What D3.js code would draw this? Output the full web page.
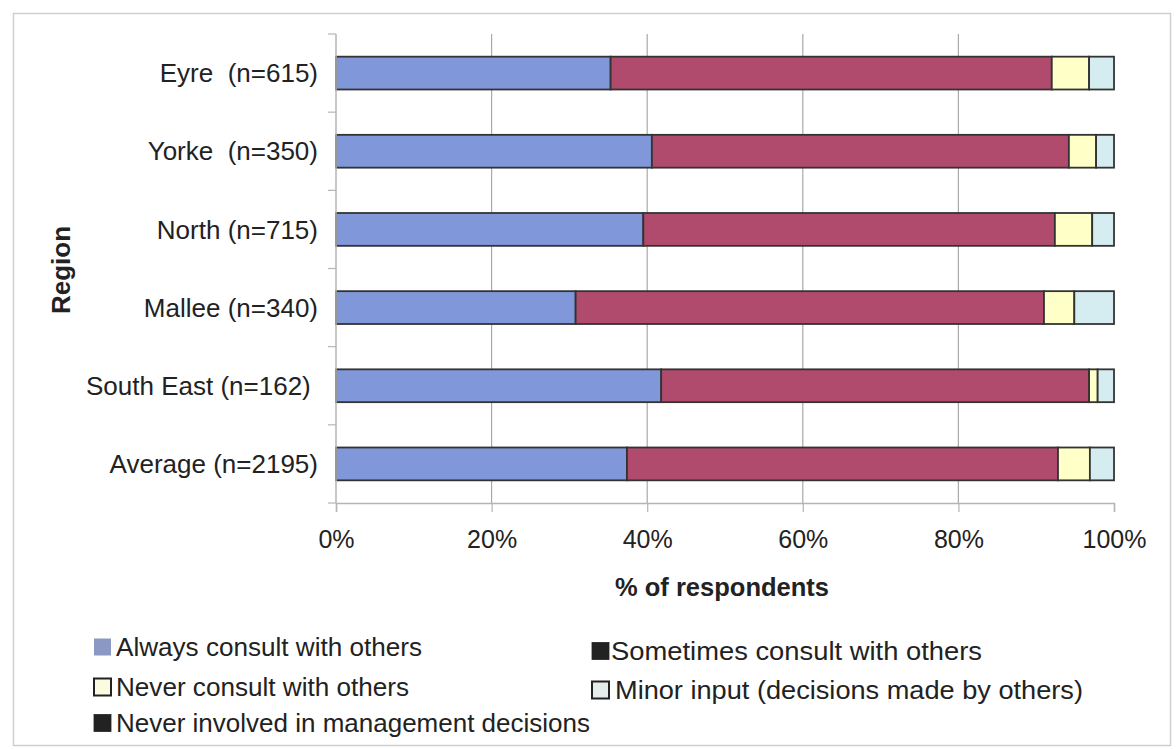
<!DOCTYPE html>
<html>
<head>
<meta charset="utf-8">
<script src="https://cdn.jsdelivr.net/npm/d3@7"></script>
<style>
  html, body { margin: 0; padding: 0; background: #fff; }
  svg { display: block; font-family: Arial, "Liberation Sans", sans-serif; }
  text { white-space: pre; }
</style>
</head>
<body>
<svg id="chart" width="1176" height="749"></svg>
<script>
// Regions, top to bottom
const categories = [
  "Eyre  (n=615)",
  "Yorke  (n=350)",
  "North (n=715)",
  "Mallee (n=340)",
  "South East (n=162) ",
  "Average (n=2195)"
];

// Series names (stack order, left to right)
const seriesNames = [
  "Always consult with others",
  "Sometimes consult with others",
  "Never consult with others",
  "Minor input (decisions made by others)",
  "Never involved in management decisions"
];

// Percentage of respondents per region, one array per series
const alwaysConsult    = [35.3, 40.6, 39.5, 30.8, 41.8, 37.4];
const sometimesConsult = [56.7, 53.6, 52.9, 60.2, 55.0, 55.4];
const neverConsult     = [4.8, 3.5, 4.8, 3.9, 1.1, 4.1];
const minorInput       = [3.2, 2.3, 2.8, 5.1, 2.1, 3.1];
const neverInvolved    = [0, 0, 0, 0, 0, 0];

const xTicks = [0, 20, 40, 60, 80, 100];
const xTickLabels = ["0%", "20%", "40%", "60%", "80%", "100%"];

const barColors = ["#8098da", "#b14b6e", "#ffffc8", "#d5edf0", "#333333"];
const legendColors = ["#8b98c3", "#222222", "#fbfbe2", "#e4ecec", "#222222"];

const seriesArrays = [alwaysConsult, sometimesConsult, neverConsult, minorInput, neverInvolved];

const rows = categories.map((c, i) => {
  const r = { region: c };
  seriesNames.forEach((s, k) => { r[s] = seriesArrays[k][i]; });
  return r;
});

const svg = d3.select("#chart");

// Outer frame
svg.append("rect")
  .attr("x", 13.5).attr("y", 13.5)
  .attr("width", 1157).attr("height", 732)
  .attr("fill", "none").attr("stroke", "#cfcfcf").attr("stroke-width", 1.5);

const plot = { left: 336, right: 1114, top: 34, bottom: 503 };

const x = d3.scaleLinear().domain([0, 100]).range([plot.left, plot.right]);
const y = d3.scaleBand().domain(categories)
  .range([plot.top, plot.bottom])
  .paddingInner(0.58).paddingOuter(0.29);

// Vertical gridlines
svg.append("g")
  .selectAll("line")
  .data(xTicks.filter(t => t > 0 && t < 100))
  .join("line")
  .attr("x1", d => x(d)).attr("x2", d => x(d))
  .attr("y1", plot.top).attr("y2", plot.bottom)
  .attr("stroke", "#a9a9a9").attr("stroke-width", 1.2);

// Stacked bars
const stack = d3.stack().keys(seriesNames);
const stacked = stack(rows);

svg.append("g")
  .selectAll("g")
  .data(stacked)
  .join("g")
  .attr("fill", (d, i) => barColors[i])
  .selectAll("rect")
  .data(d => d.filter(p => p[1] - p[0] > 0))
  .join("rect")
  .attr("x", p => x(p[0]))
  .attr("y", p => y(p.data.region))
  .attr("width", p => x(p[1]) - x(p[0]))
  .attr("height", y.bandwidth())
  .attr("stroke", "#333333")
  .attr("stroke-width", 1.8);

// X axis
const xAxis = d3.axisBottom(x)
  .tickValues(xTicks)
  .tickFormat((d, i) => xTickLabels[i])
  .tickSize(9)
  .tickPadding(18);

const gx = svg.append("g")
  .attr("transform", `translate(0,${plot.bottom})`)
  .call(xAxis);
gx.select(".domain").attr("stroke", "#b5b5b5").attr("stroke-width", 1.5);
gx.selectAll(".tick line").attr("stroke", "#b5b5b5").attr("stroke-width", 1.2);
gx.selectAll(".tick text")
  .attr("font-size", 25).attr("fill", "#222")
  .attr("font-family", "Arial, 'Liberation Sans', sans-serif");

// Y axis (ticks at band boundaries)
const step = y.step();
const boundaries = categories.map(c => y(c) - step * y.paddingInner() / 2)
  .concat([plot.bottom]);
const gy = svg.append("g");
gy.append("line")
  .attr("x1", plot.left).attr("x2", plot.left)
  .attr("y1", plot.top).attr("y2", plot.bottom)
  .attr("stroke", "#b5b5b5").attr("stroke-width", 1.5);
gy.selectAll("line.tick")
  .data(boundaries)
  .join("line")
  .attr("class", "tick")
  .attr("x1", plot.left - 8).attr("x2", plot.left)
  .attr("y1", d => d).attr("y2", d => d)
  .attr("stroke", "#b5b5b5").attr("stroke-width", 1.2);
gy.selectAll("text")
  .data(categories)
  .join("text")
  .attr("x", 318)
  .attr("y", d => y(d) + y.bandwidth() / 2)
  .attr("dy", "0.35em")
  .attr("text-anchor", "end")
  .attr("font-size", 26)
  .attr("fill", "#222")
  .text(d => d);

// Axis titles
svg.append("text")
  .attr("x", 722).attr("y", 596)
  .attr("text-anchor", "middle")
  .attr("font-size", 25.5).attr("font-weight", "bold").attr("fill", "#222")
  .text("% of respondents");

svg.append("text")
  .attr("transform", "translate(70,270) rotate(-90)")
  .attr("text-anchor", "middle")
  .attr("font-size", 26).attr("font-weight", "bold").attr("fill", "#222")
  .text("Region");

// Legend
const legendPos = [
  { x: 94, y: 647, tx: 116, w: 306 },
  { x: 592, y: 651, tx: 611, w: 371 },
  { x: 94, y: 687, tx: 116, w: 293 },
  { x: 592, y: 690, tx: 615, w: 468 },
  { x: 94, y: 723, tx: 116, w: 474 }
];
const legend = svg.append("g");
const items = legend.selectAll("g")
  .data(seriesNames)
  .join("g");
items.append("rect")
  .attr("x", (d, i) => legendPos[i].x)
  .attr("y", (d, i) => legendPos[i].y - 8.5)
  .attr("width", 17).attr("height", 17)
  .attr("fill", (d, i) => legendColors[i])
  .attr("stroke", (d, i) => i === 0 ? "none" : "#222")
  .attr("stroke-width", (d, i) => (i === 2 || i === 3) ? 2 : 0.8);
items.append("text")
  .attr("x", (d, i) => legendPos[i].tx)
  .attr("y", (d, i) => legendPos[i].y)
  .attr("dy", "0.35em")
  .attr("font-size", 26)
  .attr("textLength", (d, i) => legendPos[i].w)
  .attr("lengthAdjust", "spacingAndGlyphs")
  .attr("fill", "#222")
  .text(d => d);
</script>
</body>
</html>
